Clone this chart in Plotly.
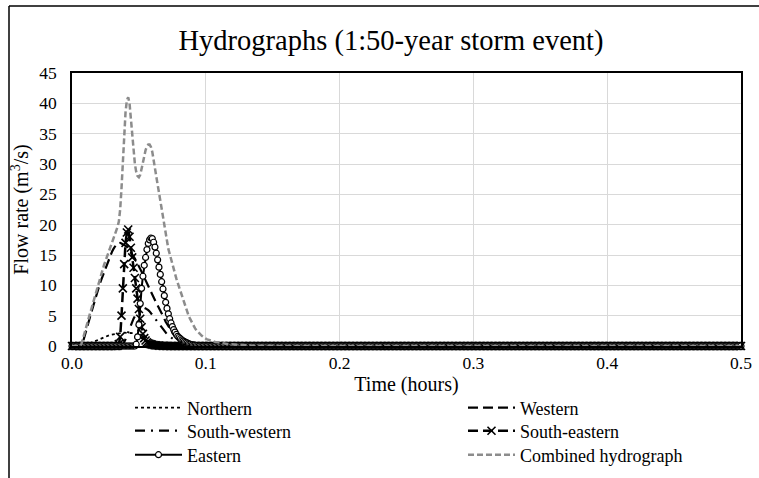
import plotly.graph_objects as go

# ---- data (time step 0.001 h, values in m3/s) ----
N_STEPS = 501  # 0.000 .. 0.500 h
TIME_H = [i / 1000 for i in range(N_STEPS)]

NORTHERN_START = 9
NORTHERN = [0.05, 0.1, 0.2, 0.3, 0.4, 0.5, 0.6, 0.7, 0.8, 0.9, 1.0, 1.1, 1.2, 1.3, 1.4, 1.5,
            1.58, 1.65, 1.72, 1.8, 1.85, 1.9, 1.95, 2.0, 2.05, 2.1, 2.12, 2.15, 2.18, 2.2, 2.2,
            2.2, 2.2, 2.2, 2.2, 2.2, 2.17, 2.1, 2.0, 1.9, 1.75, 1.6, 1.45, 1.3, 1.15, 1.0, 0.9,
            0.8, 0.7, 0.6, 0.52, 0.45, 0.4, 0.35, 0.3, 0.25, 0.21, 0.18, 0.15, 0.12, 0.1, 0.08,
            0.06, 0.05, 0.04, 0.03, 0.02, 0.01]

WESTERN_START = 7
WESTERN = [0.1, 0.5, 1.2, 2.0, 2.8, 3.6, 4.4, 5.2, 6.0, 6.8, 7.6, 8.3, 9.0, 9.7, 10.4, 11.0,
           11.6, 12.2, 12.8, 13.4, 14.0, 14.6, 15.1, 15.6, 16.0, 16.4, 16.7, 16.9, 17.0, 17.0,
           16.9, 16.8, 16.7, 16.6, 16.4, 16.1, 15.8, 15.5, 15.2, 14.8, 14.4, 14.0, 13.6, 13.2,
           12.7, 12.3, 11.8, 11.3, 10.8, 10.3, 9.8, 9.3, 8.8, 8.4, 7.9, 7.5, 7.1, 6.7, 6.3, 5.8,
           5.4, 5.0, 4.5, 4.0, 3.6, 3.2, 2.8, 2.5, 2.2, 1.9, 1.7, 1.5, 1.35, 1.2, 1.05, 0.92,
           0.8, 0.7, 0.62, 0.55, 0.48, 0.42, 0.36, 0.3, 0.25, 0.2, 0.16, 0.13, 0.1, 0.07, 0.05,
           0.03, 0.01]

SOUTH_WESTERN_START = 38
SOUTH_WESTERN = [0.2, 0.6, 1.1, 1.7, 2.3, 2.9, 3.5, 4.0, 4.5, 4.9, 5.3, 5.6, 5.9, 6.1, 6.2, 6.3,
                 6.3, 6.2, 6.1, 5.9, 5.7, 5.4, 5.1, 4.8, 4.5, 4.2, 3.9, 3.6, 3.3, 3.0, 2.7, 2.45,
                 2.2, 1.95, 1.75, 1.55, 1.35, 1.2, 1.05, 0.9, 0.8, 0.7, 0.6, 0.5, 0.42, 0.35,
                 0.28, 0.22, 0.17, 0.12, 0.08, 0.05, 0.02]

SOUTH_EASTERN_START = 35
SOUTH_EASTERN = [0.3, 1.5, 5.0, 9.5, 13.5, 17.0, 18.7, 19.2, 18.0, 16.2, 14.6, 12.9, 11.2, 9.5,
                 7.8, 6.1, 4.5, 3.1, 2.0, 1.3, 0.9, 0.6, 0.45, 0.35, 0.28, 0.22, 0.17, 0.13,
                 0.1, 0.08, 0.06, 0.05, 0.04, 0.03, 0.02, 0.01]

EASTERN_START = 48
EASTERN = [0.3, 1.5, 3.5, 7.0, 9.5, 11.5, 13.3, 14.6, 15.9, 16.9, 17.5, 17.8, 17.7, 17.1, 16.3,
           15.3, 14.2, 13.0, 11.8, 10.6, 9.4, 8.3, 7.2, 6.2, 5.3, 4.5, 3.8, 3.2, 2.7, 2.3, 1.9,
           1.6, 1.4, 1.2, 1.0, 0.85, 0.72, 0.6, 0.5, 0.4, 0.32, 0.25, 0.2, 0.15, 0.11, 0.08,
           0.05, 0.03]

COMBINED_START = 7
COMBINED = [0.3, 1.0, 1.8, 2.6, 3.4, 4.2, 5.0, 5.8, 6.6, 7.4, 8.2, 9.0, 9.7, 10.4, 11.2, 12.0,
            12.7, 13.4, 14.0, 14.6, 15.2, 15.8, 16.5, 17.1, 17.7, 18.3, 18.9, 19.6, 20.5, 22.5,
            26.0, 30.5, 35.0, 38.5, 40.5, 41.0, 40.0, 37.5, 34.5, 32.0, 30.0, 28.7, 28.0, 27.8,
            28.2, 29.2, 30.4, 31.5, 32.3, 32.9, 33.2, 33.2, 32.8, 32.0, 30.8, 29.5, 28.0, 26.6,
            25.3, 24.0, 22.5, 21.0, 19.6, 18.3, 17.1, 16.0, 15.2, 14.3, 13.5, 12.7, 11.9, 11.1,
            10.4, 9.7, 9.0, 8.3, 7.6, 6.9, 6.3, 5.7, 5.1, 4.6, 4.1, 3.7, 3.3, 2.9, 2.6, 2.3,
            2.1, 1.9, 1.7, 1.5, 1.35, 1.2, 1.1, 1.0, 0.93, 0.86, 0.8, 0.74, 0.68, 0.63, 0.58,
            0.54, 0.5, 0.46, 0.43, 0.4, 0.37, 0.34, 0.31, 0.29, 0.27, 0.25, 0.23, 0.21, 0.19,
            0.17, 0.16, 0.14, 0.13, 0.12, 0.11, 0.1, 0.09, 0.08, 0.07, 0.06, 0.05, 0.045, 0.04,
            0.035, 0.03, 0.025, 0.02, 0.015, 0.01, 0.005]

X_TICKS = [0.0, 0.1, 0.2, 0.3, 0.4, 0.5]
Y_TICKS = [0, 5, 10, 15, 20, 25, 30, 35, 40, 45]


def full_series(start, values):
    """Place the read values at their time steps; all other steps read as zero flow."""
    out = [0.0] * N_STEPS
    out[start:start + len(values)] = values
    return out


FONT = "Liberation Serif, Times New Roman, serif"

fig = go.Figure()

fig.add_trace(go.Scatter(x=TIME_H, y=full_series(NORTHERN_START, NORTHERN), name="Northern",
                         mode="lines", line=dict(color="black", width=1.8, dash="dot"),
                         legend="legend", showlegend=True, cliponaxis=False))
fig.add_trace(go.Scatter(x=TIME_H, y=full_series(WESTERN_START, WESTERN), name="Western",
                         mode="lines", line=dict(color="black", width=2.2, dash="10px,5px"),
                         legend="legend2", showlegend=True, cliponaxis=False))
fig.add_trace(go.Scatter(x=TIME_H, y=full_series(SOUTH_WESTERN_START, SOUTH_WESTERN),
                         name="South-western", mode="lines",
                         line=dict(color="black", width=2.2, dash="10px,6px,2px,6px"),
                         legend="legend3", showlegend=True, cliponaxis=False))
fig.add_trace(go.Scatter(x=TIME_H, y=full_series(SOUTH_EASTERN_START, SOUTH_EASTERN),
                         name="South-eastern", mode="lines+markers",
                         line=dict(color="black", width=2.5, dash="10px,5px"),
                         marker=dict(symbol="x-thin", size=8, color="black",
                                     line=dict(color="black", width=1.6)),
                         legend="legend4", showlegend=True, cliponaxis=False))
fig.add_trace(go.Scatter(x=TIME_H, y=full_series(EASTERN_START, EASTERN), name="Eastern",
                         mode="lines+markers", line=dict(color="black", width=2),
                         marker=dict(symbol="circle", size=6, color="white",
                                     line=dict(color="black", width=1.2)),
                         legend="legend5", showlegend=True, cliponaxis=False))
fig.add_trace(go.Scatter(x=TIME_H, y=full_series(COMBINED_START, COMBINED),
                         name="Combined hydrograph", mode="lines",
                         line=dict(color="#8c8c8c", width=2.5, dash="6px,3px"),
                         legend="legend6", showlegend=True, cliponaxis=False))

W, H = 759, 478
L, R, T, B = 72, 18, 73, 132
pw, ph = W - L - R, H - T - B


def px_x(px):
    return (px - L) / pw


def px_y(py):
    return (H - B - py) / ph


legend_common = dict(font=dict(family=FONT, size=18, color="black"), bgcolor="rgba(0,0,0,0)",
                     orientation="v", xref="paper", yref="paper", itemwidth=47,
                     xanchor="left", yanchor="middle", itemclick=False, tracegroupgap=0,
                     visible=True)

LEFT_X, RIGHT_X = 130, 463
ROW_Y = [408, 431, 455]

fig.update_layout(
    width=W, height=H,
    showlegend=True,
    margin=dict(l=L, r=R, t=T, b=B, autoexpand=False),
    paper_bgcolor="white", plot_bgcolor="white",
    font=dict(family=FONT, color="black"),
    title=dict(text="Hydrographs (1:50-year storm event)", font=dict(family=FONT, size=28.5, color="black"),
               x=391 / W, xref="container", xanchor="center",
               y=1 - 40 / H, yref="container", yanchor="middle"),
    xaxis=dict(range=[0, 0.5], tickvals=X_TICKS, ticktext=[f"{v:.1f}" for v in X_TICKS],
               showgrid=True, gridcolor="#d9d9d9", gridwidth=1,
               showline=True, linecolor="black", linewidth=1.5, mirror=True,
               ticks="", zeroline=False, automargin=False,
               tickfont=dict(family=FONT, size=17.5, color="black"),
               title=dict(text="Time (hours)", font=dict(family=FONT, size=20, color="black"),
                          standoff=5)),
    yaxis=dict(range=[0, 45], tickvals=Y_TICKS,
               showgrid=True, gridcolor="#d9d9d9", gridwidth=1,
               showline=True, linecolor="black", linewidth=1.5, mirror=True,
               ticks="", zeroline=False, ticklabelstandoff=10, automargin=False,
               tickfont=dict(family=FONT, size=17.5, color="black"),
               title=dict(text="Flow rate (m<sup>3</sup>/s)",
                          font=dict(family=FONT, size=20, color="black"), standoff=5)),
    legend=dict(x=px_x(LEFT_X), y=px_y(ROW_Y[0]), **legend_common),
    legend2=dict(x=px_x(RIGHT_X), y=px_y(ROW_Y[0]), **legend_common),
    legend3=dict(x=px_x(LEFT_X), y=px_y(ROW_Y[1]), **legend_common),
    legend4=dict(x=px_x(RIGHT_X), y=px_y(ROW_Y[1]), **legend_common),
    legend5=dict(x=px_x(LEFT_X), y=px_y(ROW_Y[2]), **legend_common),
    legend6=dict(x=px_x(RIGHT_X), y=px_y(ROW_Y[2]), **legend_common),
    shapes=[
        dict(type="line", xref="paper", yref="paper", x0=px_x(9), x1=px_x(9),
             y0=px_y(6), y1=px_y(H + 5), line=dict(color="black", width=1.5)),
        dict(type="line", xref="paper", yref="paper", x0=px_x(9), x1=px_x(W + 5),
             y0=px_y(6), y1=px_y(6), line=dict(color="black", width=1.5)),
    ],
)

fig.write_html("out.html", config={"displayModeBar": False},
               post_script="document.body.style.margin='0';document.body.style.padding='0';")
